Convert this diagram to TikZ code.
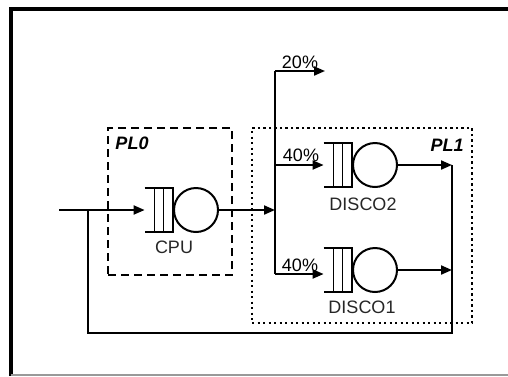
\documentclass[tikz,border=0pt]{standalone}
\usepackage{fontspec}
\setmainfont{Liberation Sans}
\usetikzlibrary{positioning,arrows.meta}
\tikzset{
  server/.style={circle,draw,line width=2pt,minimum size=44pt,inner sep=0pt},
  queuebox/.style={rectangle,minimum width=28pt,minimum height=44pt,inner sep=0pt},
  qline/.style={line width=2pt},
  slot/.style={line width=1.4pt},
  wire/.style={line width=2pt},
  flow/.style={-{Triangle[length=11pt,width=9pt]},line width=2pt},
  pl0box/.style={rectangle,draw,inner sep=0pt,line width=2pt,dash pattern=on 8pt off 5pt},
  pl1box/.style={rectangle,draw,inner sep=0pt,line width=2.2pt,dash pattern=on 2.2pt off 3.3pt},
  stname/.style={text=black!85,font=\fontsize{18}{20}\selectfont},
  pct/.style={font=\fontsize{18}{20}\selectfont},
  plname/.style={font=\fontsize{18}{20}\selectfont\bfseries\itshape}
}

\begin{document}
\begin{tikzpicture}[x=1pt,y=-1pt]
\useasboundingbox (0,0) rectangle (508,376);

% Frame
\draw[line width=4pt] (10.5,376) -- (10.5,9) -- (508,9);
\draw[black!40,line width=1.5pt] (10.5,375) -- (508,375);

% Service levels
\node[pl0box,minimum width=124pt,minimum height=147pt] (pl0) at (170,201.5) {};
\node[pl1box,minimum width=220pt,minimum height=195pt] (pl1) at (362,225.5) {};
\node[plname] (pl0name) at (132,143) {PL0};
\node[plname] (pl1name) at (447,145) {PL1};

% Stations: server plus queue
\node[server] (cpu) at (196,210) {};
\node[server] (d2) at (375,165) {};
\node[server] (d1) at (375,270) {};
\node[queuebox,left=0pt of cpu] (cpuq) {};
\node[queuebox,left=0pt of d2] (d2q) {};
\node[queuebox,left=0pt of d1] (d1q) {};
\foreach \q in {cpuq,d2q,d1q}{
  \draw[qline] (\q.north west) -- (\q.north east) -- (\q.south east) -- (\q.south west);
  \draw[slot] ([xshift=10pt]\q.north west) -- ([xshift=10pt]\q.south west);
  \draw[slot] ([xshift=19pt]\q.north west) -- ([xshift=19pt]\q.south west);
}
\node[stname] (cpuname) at (174,247) {CPU};
\node[stname] (d2name) at (363,204) {DISCO2};
\node[stname] (d1name) at (362,307) {DISCO1};

% Routing points
\coordinate (in) at (59,210);
\coordinate (fork) at (88,210);
\coordinate (split) at (275,210);
\coordinate (top) at (275,71);
\coordinate (exit) at (325,71);
\coordinate (b2) at (275,165);
\coordinate (b1) at (275,274);
\coordinate (join2) at (452,165);
\coordinate (join1) at (452,270);
\coordinate (retR) at (452,333);
\coordinate (retL) at (88,333);

% Probabilities
\node[pct] (p20) at (300,62) {20\%};
\node[pct] (p40a) at (301,155) {40\%};
\node[pct] (p40b) at (300,265) {40\%};

% Flows
\draw[flow] (in) -- (cpuq.west);
\draw[flow] (cpu.east) -- (split);
\draw[wire] (top) -- (b1);
\draw[flow] (top) -- (exit);
\draw[flow] (b2) -- (d2q.west);
\draw[flow] (b1) -- (b1 -| d1q.west);
\draw[flow] (d2.east) -- (join2);
\draw[flow] (d1.east) -- (join1);

% Feedback
\draw[wire] (join2) -- (retR) -- (retL) -- (fork);

\end{tikzpicture}
\end{document}
